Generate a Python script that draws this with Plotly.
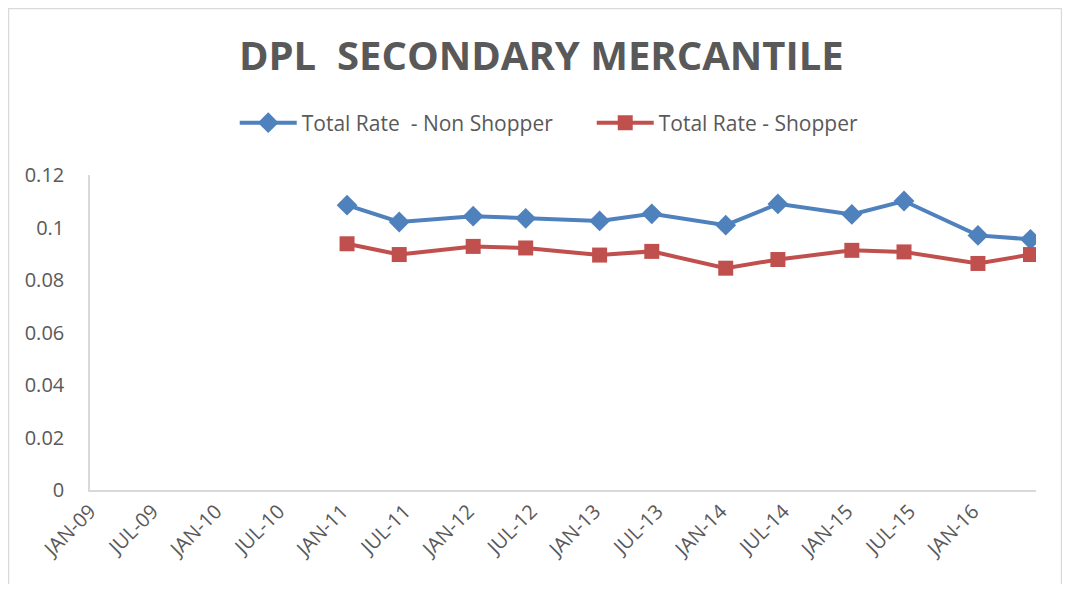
import plotly.graph_objects as go

# Survey dates (mid-January / mid-June each year)
dates = ['2011-01-15', '2011-06-15', '2012-01-15', '2012-06-15',
         '2013-01-15', '2013-06-15', '2014-01-15', '2014-06-15',
         '2015-01-15', '2015-06-15', '2016-01-15', '2016-06-15']

non_shopper = [0.1085, 0.1021, 0.1043, 0.1035, 0.1025, 0.1052,
               0.1009, 0.1090, 0.1050, 0.1101, 0.0970, 0.0955]
shopper = [0.0938, 0.0897, 0.0928, 0.0922, 0.0895, 0.0909,
           0.0845, 0.0878, 0.0913, 0.0907, 0.0863, 0.0897]

tick_dates = ['2009-01-01', '2009-07-01', '2010-01-01', '2010-07-01',
              '2011-01-01', '2011-07-01', '2012-01-01', '2012-07-01',
              '2013-01-01', '2013-07-01', '2014-01-01', '2014-07-01',
              '2015-01-01', '2015-07-01', '2016-01-01']
tick_text = ['JAN-09', 'JUL-09', 'JAN-10', 'JUL-10', 'JAN-11', 'JUL-11',
             'JAN-12', 'JUL-12', 'JAN-13', 'JUL-13', 'JAN-14', 'JUL-14',
             'JAN-15', 'JUL-15', 'JAN-16']

font_family = 'Open Sans, Noto Sans, sans-serif'
grey = '#595959'

fig = go.Figure()

fig.add_trace(go.Scatter(
    x=dates,
    y=non_shopper,
    name='Total Rate  - Non Shopper',
    mode='lines+markers',
    line=dict(color='#4F81BD', width=4),
    marker=dict(symbol='diamond', size=16, color='#4F81BD')
))

fig.add_trace(go.Scatter(
    x=dates,
    y=shopper,
    name='Total Rate - Shopper',
    mode='lines+markers',
    line=dict(color='#C0504D', width=4),
    marker=dict(symbol='square', size=15, color='#C0504D')
))

# Outer chart border (bottom edge runs off the page, as in the original)
fig.add_shape(
    type='rect', xref='paper', yref='paper',
    x0=-0.0862, x1=1.027, y0=-0.6, y1=1.5286,
    line=dict(color='#d9d9d9', width=1.5),
    layer='below'
)

fig.update_layout(
    title=dict(
        text='<b>DPL  SECONDARY MERCANTILE</b>',
        x=0.506, xanchor='center',
        y=0.917, yanchor='middle',
        font=dict(family=font_family, size=40, color=grey)
    ),
    xaxis=dict(
        type='date',
        range=['2009-01-01', '2016-07-01'],
        tickvals=tick_dates,
        ticktext=tick_text,
        tickangle=-45,
        showgrid=False,
        showline=True,
        linecolor='#d9d9d9',
        linewidth=1.5,
        zeroline=False,
        tickfont=dict(family=font_family, size=20, color=grey)
    ),
    yaxis=dict(
        range=[0, 0.12],
        tickvals=[0, 0.02, 0.04, 0.06, 0.08, 0.1, 0.12],
        ticktext=['0', '0.02', '0.04', '0.06', '0.08', '0.1', '0.12'],
        showgrid=False,
        showline=True,
        linecolor='#d9d9d9',
        linewidth=1.5,
        zeroline=False,
        ticklabelstandoff=20,
        tickfont=dict(family=font_family, size=20, color=grey)
    ),
    legend=dict(
        orientation='h',
        x=0.153, xanchor='left',
        y=1.165, yanchor='middle',
        font=dict(family=font_family, size=21, color=grey),
        itemwidth=57,
        entrywidth=285,
        entrywidthmode='pixels'
    ),
    plot_bgcolor='white',
    paper_bgcolor='white',
    width=1054,
    height=576,
    margin=dict(l=82, r=26, t=167, b=94)
)

fig.write_html('out.html')
